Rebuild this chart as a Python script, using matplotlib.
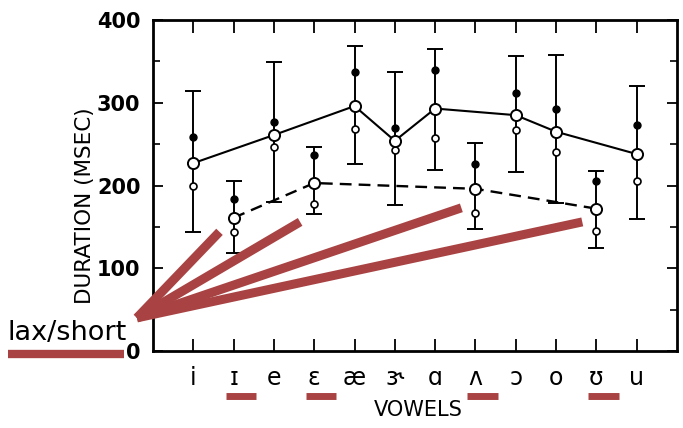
import matplotlib
matplotlib.use('Agg')
import matplotlib.pyplot as plt
from matplotlib.ticker import MultipleLocator, FixedLocator
from matplotlib.lines import Line2D

# ---------------- data ----------------
vowels = ['i', 'ɪ', 'e', 'ɛ', 'æ', 'ɝ', 'ɑ', 'ʌ', 'ɔ', 'o', 'ʊ', 'u']
is_lax = [False, True, False, True, False, False, False, True, False, False, True, False]
mean_ms = [227, 161, 261, 203, 296, 254, 293, 196, 285, 265, 172, 238]
upper_dot_ms = [259, 184, 277, 237, 337, 270, 339, 226, 312, 293, 205, 273]
lower_dot_ms = [200, 144, 246, 178, 268, 243, 257, 167, 267, 240, 145, 205]
bar_top_ms = [314, 205, 349, 246, 368, 337, 365, 251, 356, 358, 218, 320]
bar_bottom_ms = [144, 119, 180, 165, 226, 177, 219, 147, 216, 179, 125, 160]
pointer_tip_ms = [144, 156, 173, 156]   # y (msec) where red pointers end, one per lax vowel
annot_label = 'lax/short'
y_label = 'DURATION (MSEC)'
x_label = 'VOWELS'
y_ticks = [0, 100, 200, 300, 400]

RED = '#a94343'

x = list(range(1, len(vowels) + 1))
tense_x = [xi for xi, l in zip(x, is_lax) if not l]
tense_m = [m for m, l in zip(mean_ms, is_lax) if not l]
lax_x = [xi for xi, l in zip(x, is_lax) if l]
lax_m = [m for m, l in zip(mean_ms, is_lax) if l]

fig = plt.figure(figsize=(6.83, 4.28), dpi=100)
ax = fig.add_axes([153 / 683, 1 - 351 / 428, 524 / 683, 331 / 428])
ax.set_xlim(0, 13)
ax.set_ylim(0, 400)

for s in ax.spines.values():
    s.set_linewidth(2.0)
    s.set_color('black')

# error bars
yerr = [[m - b for m, b in zip(mean_ms, bar_bottom_ms)],
        [t - m for m, t in zip(mean_ms, bar_top_ms)]]
ax.errorbar(x, mean_ms, yerr=yerr, fmt='none', ecolor='black',
            elinewidth=1.4, capsize=6, capthick=1.4, zorder=2)

# connecting lines
ax.plot(tense_x, tense_m, color='black', lw=1.5, zorder=3)
ax.plot(lax_x, lax_m, color='black', lw=1.7, linestyle=(0, (5, 3)), zorder=3)

# points
ax.plot(x, upper_dot_ms, 'o', ms=5, mfc='black', mec='black', zorder=4)
ax.plot(x, lower_dot_ms, 'o', ms=5, mfc='white', mec='black', mew=1.2, zorder=4)
ax.plot(x, mean_ms, 'o', ms=8, mfc='white', mec='black', mew=1.4, zorder=5)

# ticks
ax.xaxis.set_major_locator(FixedLocator(x))
ax.set_xticklabels([])
ax.yaxis.set_major_locator(FixedLocator(y_ticks))
ax.yaxis.set_minor_locator(MultipleLocator(50))
ax.tick_params(axis='x', which='major', direction='in', length=9, width=1.3,
               top=True, bottom=True)
ax.tick_params(axis='y', which='major', direction='in', length=7, width=1.3,
               left=True, right=True, labelsize=15, pad=9)
ax.tick_params(axis='y', which='minor', direction='in', length=5, width=1.2,
               left=True, right=True)
for lab in ax.get_yticklabels():
    lab.set_fontweight('bold')

# vowel labels
xt = ax.get_xaxis_transform()
for xi, v in zip(x, vowels):
    ax.text(xi, -0.103, v, transform=xt, ha='center', va='baseline',
            fontsize=17, color='black', clip_on=False)

fig.text(418 / 683, 1 - 410 / 428, x_label, ha='center', va='center',
         fontsize=15)
fig.text(85 / 683, 1 - 206 / 428, y_label, ha='center', va='center',
         rotation=90, fontsize=15.5)

# red annotation: pointers to lax vowels
start = (-0.40, 40)
for xi, tip in zip(lax_x, pointer_tip_ms):
    ax.plot([start[0], xi - 0.35], [start[1], tip], color=RED, lw=6.5,
            solid_capstyle='butt', clip_on=False, zorder=6)
# red underlines below lax vowel labels
for xi in lax_x:
    ax.plot([xi - 0.2, xi + 0.55], [-0.135, -0.135], transform=xt, color=RED,
            lw=5, solid_capstyle='butt', clip_on=False, zorder=6)

fig.text(8 / 683, 1 - 340 / 428, annot_label, ha='left', va='baseline',
         fontsize=19.5, color='black')
fig.add_artist(Line2D([8 / 683, 124 / 683], [1 - 354 / 428, 1 - 354 / 428],
                      transform=fig.transFigure, color=RED, lw=6,
                      solid_capstyle='butt'))

fig.savefig('out.png', dpi=100)
